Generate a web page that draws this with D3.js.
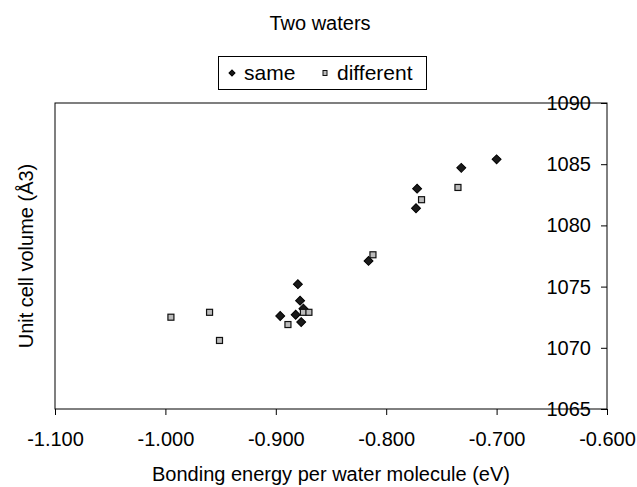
<!DOCTYPE html>
<html>
<head>
<meta charset="utf-8">
<script src="https://cdn.jsdelivr.net/npm/d3@7"></script>
<style>
  body { margin: 0; background: #fff; }
  svg text { font-family: "Liberation Sans", Arial, sans-serif; fill: #000; }
</style>
</head>
<body>
<div id="chart"></div>
<script>
// bonding energy (eV) vs unit cell volume (Å3)
var sameX = [-0.880, -0.878, -0.875, -0.896, -0.882, -0.877, -0.816, -0.772, -0.773, -0.732, -0.700];
var sameY = [1075.2, 1073.85, 1073.2, 1072.6, 1072.7, 1072.1, 1077.1, 1083.0, 1081.4, 1084.7, 1085.4];
var diffX = [-0.995, -0.960, -0.951, -0.889, -0.875, -0.870, -0.812, -0.768, -0.735];
var diffY = [1072.5, 1072.9, 1070.6, 1071.9, 1072.9, 1072.9, 1077.6, 1082.1, 1083.1];
var xTicks = [-1.1, -1.0, -0.9, -0.8, -0.7, -0.6];
var yTicks = [1065, 1070, 1075, 1080, 1085, 1090];

var W = 637, H = 487;
var pLeft = 55, pRight = 607, pTop = 103, pBottom = 409;

var svg = d3.select("#chart").append("svg")
  .attr("width", W).attr("height", H);

var x = d3.scaleLinear().domain([-1.1, -0.6]).range([pLeft, pRight]);
var y = d3.scaleLinear().domain([1065, 1090]).range([pBottom, pTop]);

// plot frame
svg.append("rect")
  .attr("x", pLeft).attr("y", pTop)
  .attr("width", pRight - pLeft).attr("height", pBottom - pTop)
  .attr("fill", "none").attr("stroke", "#000").attr("stroke-width", 1);

var fmt = d3.formatLocale({decimal: ".", thousands: ",", grouping: [3], currency: ["", ""], minus: "-"}).format(".3f");
var xAxis = d3.axisBottom(x).tickValues(xTicks).tickFormat(fmt).tickSize(6).tickPadding(17);
var gx = svg.append("g").attr("transform", "translate(0," + pBottom + ")").call(xAxis);
gx.select(".domain").remove();
gx.selectAll("text").style("font-size", "20px").attr("fill", "#000");

var yAxis = d3.axisLeft(y).tickValues(yTicks).tickFormat(d3.format("d")).tickSize(6).tickPadding(10);
var gy = svg.append("g").attr("transform", "translate(" + pRight + ",0)").call(yAxis);
gy.select(".domain").remove();
gy.selectAll("text").style("font-size", "20px").attr("fill", "#000");

// series
svg.append("g").selectAll("path")
  .data(d3.range(sameX.length))
  .enter().append("path")
  .attr("d", d3.symbol().type(d3.symbolSquare).size(40)())
  .attr("transform", function(i) { return "translate(" + x(sameX[i]) + "," + y(sameY[i]) + ") rotate(45)"; })
  .attr("fill", "#1a1a1a").attr("stroke", "#000").attr("stroke-width", 1);

svg.append("g").selectAll("rect")
  .data(d3.range(diffX.length))
  .enter().append("rect")
  .attr("x", function(i) { return x(diffX[i]) - 3; })
  .attr("y", function(i) { return y(diffY[i]) - 3; })
  .attr("width", 6).attr("height", 6)
  .attr("fill", "#bbbbbb").attr("stroke", "#111").attr("stroke-width", 1.2);

// titles
svg.append("text").attr("x", 320).attr("y", 30).attr("text-anchor", "middle")
  .style("font-size", "20px").text("Two waters");
svg.append("text").attr("x", 331).attr("y", 481).attr("text-anchor", "middle")
  .style("font-size", "20px").text("Bonding energy per water molecule (eV)");
svg.append("text").attr("transform", "translate(33," + ((pTop + pBottom) / 2) + ") rotate(-90)")
  .attr("text-anchor", "middle").style("font-size", "20px").text("Unit cell volume (Å3)");

// legend
var lg = svg.append("g");
lg.append("rect").attr("x", 218.5).attr("y", 56.5).attr("width", 208).attr("height", 33)
  .attr("fill", "#fff").attr("stroke", "#000").attr("stroke-width", 1);
lg.append("path").attr("d", d3.symbol().type(d3.symbolSquare).size(18)())
  .attr("transform", "translate(232,73) rotate(45)").attr("fill", "#1a1a1a").attr("stroke", "#000");
lg.append("text").attr("x", 244).attr("y", 80).style("font-size", "21px").text("same");
lg.append("rect").attr("x", 323).attr("y", 70.5).attr("width", 4).attr("height", 5)
  .attr("fill", "#bbbbbb").attr("stroke", "#111").attr("stroke-width", 1);
lg.append("text").attr("x", 337).attr("y", 80).style("font-size", "21px").text("different");
</script>
</body>
</html>
